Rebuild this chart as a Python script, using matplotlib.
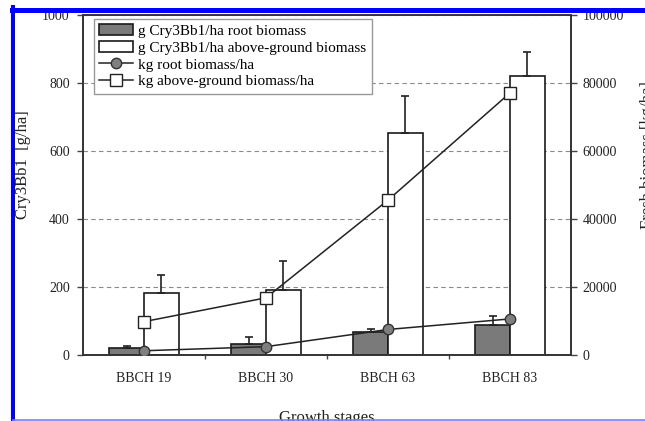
import numpy as np
import matplotlib
matplotlib.use('Agg')
import matplotlib.pyplot as plt
from matplotlib.lines import Line2D
from matplotlib.patches import Patch

# Cry3Bb1 content and fresh biomass per growth stage
stages = ['BBCH 19', 'BBCH 30', 'BBCH 63', 'BBCH 83']
cry_root = [21, 32, 67, 87]
cry_root_err = [4, 22, 8, 27]
cry_above = [182, 192, 652, 820]
cry_above_err = [52, 83, 109, 71]
biomass_root = [1250, 2450, 7500, 10600]
biomass_above = [9800, 16800, 45500, 77000]

plt.rcParams['font.family'] = ['Liberation Serif', 'DejaVu Serif']

W, H = 645, 421
fig = plt.figure(figsize=(W / 100, H / 100), dpi=100)
ax = fig.add_axes([83 / W, 1 - 355 / H, 488 / W, 340.4 / H])
ax2 = ax.twinx()

x = np.arange(len(stages))
width = 0.285
err_kw = dict(elinewidth=1.2, capsize=2.6, capthick=1.2, ecolor='#222222')

ax.bar(x - width / 2, cry_root, width, color='#7a7a7a', edgecolor='#1a1a1a', linewidth=1.2,
       yerr=[np.zeros(4), cry_root_err], error_kw=err_kw, zorder=2)
ax.bar(x + width / 2, cry_above, width, color='white', edgecolor='#1a1a1a', linewidth=1.2,
       yerr=[np.zeros(4), cry_above_err], error_kw=err_kw, zorder=2)

ax.set_xlim(-0.5, 3.5)
ax.set_ylim(0, 1000)
ax.set_yticks(range(0, 1001, 200))
ax.set_axisbelow(True)
ax.yaxis.grid(True, linestyle=(0, (4, 3)), color='#8a8a8a', linewidth=0.8)

ax2.plot(x, biomass_root, color='#222222', lw=1.1, marker='o', ms=7.5,
         mfc='#7f7f7f', mec='#333333', mew=1.0, zorder=3)
ax2.plot(x, biomass_above, color='#222222', lw=1.1, marker='s', ms=8,
         mfc='white', mec='#222222', mew=1.0, zorder=3)
ax2.set_ylim(0, 100000)
ax2.set_yticks(range(0, 100001, 20000))

ax.set_xticks(x)
ax.set_xticklabels(stages)
ax.set_xticks(x[:-1] + 0.5, minor=True)
ax.tick_params(axis='x', which='major', length=0, pad=12, labelsize=10, labelcolor='#222222')
ax.tick_params(axis='x', which='minor', length=3, width=1, color='#444444')
ax.tick_params(axis='y', length=4.5, width=1, pad=5, labelsize=10, labelcolor='#222222', color='#444444')
ax2.tick_params(axis='y', length=4.5, width=1, pad=4, labelsize=10, labelcolor='#222222', color='#444444')

for a in (ax, ax2):
    for s in a.spines.values():
        s.set_color('#333333')
        s.set_linewidth(1.2)

fig.text(23 / W, 1 - 165 / H, 'Cry3Bb1  [g/ha]', rotation=90, ha='center', va='center',
         fontsize=12, color='#222222')
fig.text(648 / W, 1 - 155 / H, 'Fresh biomass [kg/ha]', rotation=90, ha='center', va='center',
         fontsize=12, color='#222222')
fig.text(327 / W, 1 - 410 / H, 'Growth stages', ha='center', va='top', fontsize=12, color='#222222')

handles = [
    Patch(facecolor='#7a7a7a', edgecolor='#1a1a1a', linewidth=1.2),
    Patch(facecolor='white', edgecolor='#1a1a1a', linewidth=1.2),
    Line2D([], [], color='#222222', lw=1.1, marker='o', ms=7.5, mfc='#7f7f7f', mec='#333333'),
    Line2D([], [], color='#222222', lw=1.1, marker='s', ms=8, mfc='white', mec='#222222'),
]
labels = ['g Cry3Bb1/ha root biomass', 'g Cry3Bb1/ha above-ground biomass',
          'kg root biomass/ha', 'kg above-ground biomass/ha']
leg = ax2.legend(handles, labels, loc='upper left', bbox_to_anchor=(11 / 488, 336 / 340.4),
                 borderaxespad=0, fontsize=11, handlelength=2.2, handleheight=0.7,
                 handletextpad=0.35, labelspacing=0.2, borderpad=0.35,
                 frameon=True, fancybox=False, framealpha=1, edgecolor='#999999')
leg.get_frame().set_linewidth(1.0)
leg.set_zorder(5)

# frame around the figure
fig.add_artist(Line2D([12 / W, 1], [1 - 9.5 / H] * 2, transform=fig.transFigure,
                      color='#0000ff', lw=3.6, zorder=10))
fig.add_artist(Line2D([13 / W] * 2, [0, 1 - 7 / H], transform=fig.transFigure,
                      color='#0000ff', lw=2.9, zorder=10))
fig.add_artist(Line2D([13 / W, 1], [1 - 419.5 / H] * 2, transform=fig.transFigure,
                      color='#7b7bff', lw=1.2, zorder=10))

fig.savefig('out.png', dpi=100)
